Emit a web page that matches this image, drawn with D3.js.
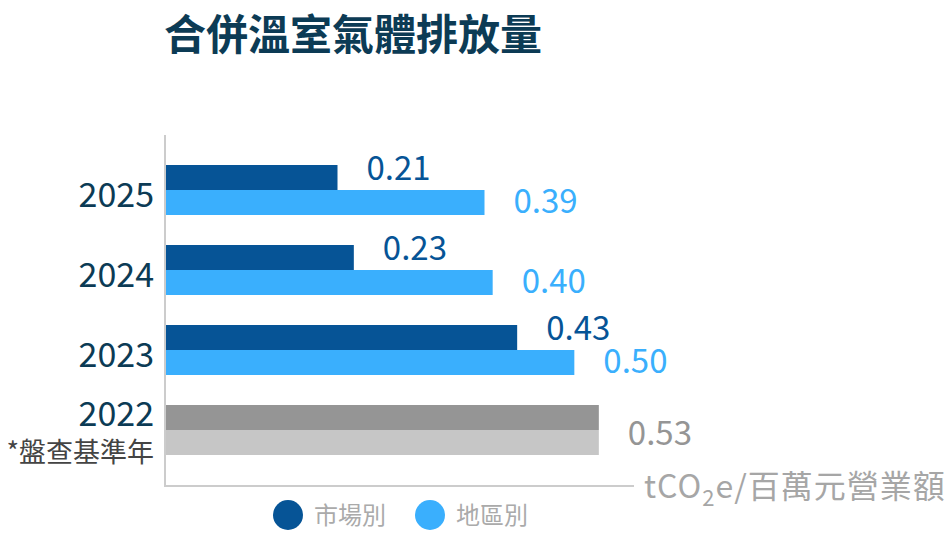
<!DOCTYPE html>
<html>
<head>
<meta charset="utf-8">
<script src="https://cdn.jsdelivr.net/npm/d3@7"></script>
<style>
  body { margin: 0; background: #fff; }
  svg { display: block; font-family: "Noto Sans CJK TC", "Noto Sans", sans-serif; }
</style>
</head>
<body>
<svg id="chart"></svg>
<script>
// data
var years = ["2025", "2024", "2023", "2022"];
var marketValues = [0.21, 0.23, 0.43, 0.53];   // 市場別
var locationValues = [0.39, 0.40, 0.50, 0.53]; // 地區別
var seriesNames = ["市場別", "地區別"];
var baseYear = "2022";
var baseYearNote = "*盤查基準年";
var title = "合併溫室氣體排放量";
var unitLabel = ["tCO", "2", "e/百萬元營業額"];

var svgWidth = 952, svgHeight = 560;
var navy = "#0c3b55";
var seriesColors = ["#065496", "#3aaffd"];
var baseColors = ["#959595", "#c6c6c6"];
var axisColor = "#cccccc";

var svg = d3.select("#chart").attr("width", svgWidth).attr("height", svgHeight);

// title
svg.append("text")
    .attr("x", 164)
    .attr("y", 50)
    .style("font-size", "42px")
    .style("font-weight", "700")
    .attr("fill", navy)
    .text(title);

// scales
var x = d3.scaleLinear().domain([0, 0.6]).range([166, 656]);
var y0 = d3.scaleBand().domain(years).range([150, 470]).paddingInner(0.375).paddingOuter(0.1875);
var y1 = d3.scaleBand().domain([0, 1]).range([0, y0.bandwidth()]);

var rows = years.map(function (d, i) {
    return { year: d, values: [marketValues[i], locationValues[i]] };
});

var groups = svg.selectAll(".row")
    .data(rows)
    .enter().append("g")
    .attr("class", "row")
    .attr("transform", function (d) { return "translate(0," + y0(d.year) + ")"; });

// bars
groups.selectAll("rect")
    .data(function (d) {
        return d.values.map(function (v, k) { return { year: d.year, value: v, k: k }; });
    })
    .enter().append("rect")
    .attr("x", x(0))
    .attr("y", function (d) { return y1(d.k); })
    .attr("width", function (d) { return x(d.value) - x(0); })
    .attr("height", y1.bandwidth())
    .attr("fill", function (d) {
        return d.year === baseYear ? baseColors[d.k] : seriesColors[d.k];
    });

// value labels
groups.each(function (d) {
    var g = d3.select(this);
    if (d.year === baseYear) {
        g.append("text")
            .attr("x", x(d.values[1]) + 29)
            .attr("y", 40)
            .style("font-size", "33px")
            .attr("fill", baseColors[0])
            .text(d3.format(".2f")(d.values[1]));
    } else {
        d.values.forEach(function (v, k) {
            g.append("text")
                .attr("x", x(v) + 29)
                .attr("y", k === 0 ? 15 : 48)
                .style("font-size", "33px")
                .attr("fill", seriesColors[k])
                .text(d3.format(".2f")(v));
        });
    }
});

// year labels
groups.append("text")
    .attr("x", 154)
    .attr("y", function (d) { return d.year === baseYear ? 21 : 42; })
    .attr("text-anchor", "end")
    .style("font-size", "34px")
    .attr("fill", navy)
    .text(function (d) { return d.year; });

svg.append("text")
    .attr("x", 154)
    .attr("y", y0(baseYear) + 57)
    .attr("text-anchor", "end")
    .style("font-size", "27px")
    .attr("fill", "#444444")
    .text(baseYearNote);

// axis lines
svg.append("line")
    .attr("x1", 165).attr("x2", 165)
    .attr("y1", 135).attr("y2", 487)
    .attr("stroke", axisColor).attr("stroke-width", 2);

svg.append("line")
    .attr("x1", 164).attr("x2", 634)
    .attr("y1", 486).attr("y2", 486)
    .attr("stroke", axisColor).attr("stroke-width", 2);

// unit label
var unit = svg.append("text")
    .attr("x", 644)
    .attr("y", 498)
    .style("font-size", "32px")
    .style("letter-spacing", "1px")
    .attr("fill", "#a6a6a6");
unit.append("tspan").text(unitLabel[0]);
unit.append("tspan").attr("dy", 8).style("font-size", "22px").text(unitLabel[1]);
unit.append("tspan").attr("dy", -8).text(unitLabel[2]);

// legend
var legend = svg.selectAll(".legend")
    .data(seriesNames)
    .enter().append("g")
    .attr("class", "legend")
    .attr("transform", function (d, i) { return "translate(" + (288 + i * 142) + ",515)"; });

legend.append("circle")
    .attr("r", 15)
    .attr("fill", function (d, i) { return seriesColors[i]; });

legend.append("text")
    .attr("x", 26)
    .attr("y", 9)
    .style("font-size", "24px")
    .attr("fill", "#aaaaaa")
    .text(function (d) { return d; });
</script>
</body>
</html>
